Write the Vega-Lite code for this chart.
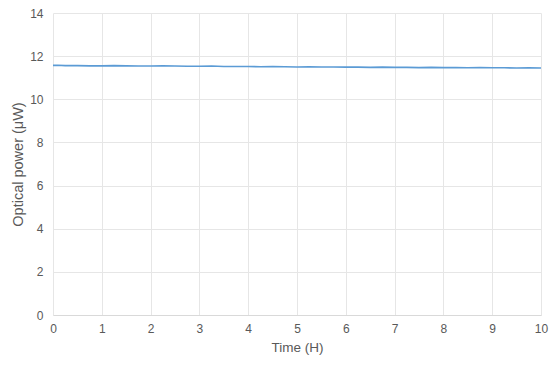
{
  "$schema": "https://vega.github.io/schema/vega-lite/v6.json",
  "autosize": {"type": "none"},
  "width": 488,
  "height": 302,
  "padding": {"left": 53, "top": 13, "right": 17, "bottom": 51},
  "background": "white",
  "config": {
    "font": "Liberation Sans",
    "view": {"stroke": null},
    "axis": {
      "labelColor": "#595959",
      "titleColor": "#595959",
      "labelFontSize": 12,
      "titleFontSize": 13.5,
      "titleFontWeight": "normal",
      "gridColor": "#e6e6e6",
      "gridWidth": 1,
      "ticks": false,
      "labelFlush": false
    }
  },
  "data": {"values": [
    {"t": 0.0, "p": 11.57}, {"t": 0.1, "p": 11.58}, {"t": 0.25, "p": 11.56}, {"t": 0.5, "p": 11.56},
    {"t": 0.75, "p": 11.55}, {"t": 1.0, "p": 11.55}, {"t": 1.25, "p": 11.56}, {"t": 1.5, "p": 11.55},
    {"t": 1.75, "p": 11.54}, {"t": 2.0, "p": 11.54}, {"t": 2.25, "p": 11.55}, {"t": 2.5, "p": 11.54},
    {"t": 2.75, "p": 11.53}, {"t": 3.0, "p": 11.53}, {"t": 3.25, "p": 11.54}, {"t": 3.5, "p": 11.52},
    {"t": 3.75, "p": 11.52}, {"t": 4.0, "p": 11.52}, {"t": 4.25, "p": 11.51}, {"t": 4.5, "p": 11.52},
    {"t": 4.75, "p": 11.51}, {"t": 5.0, "p": 11.50}, {"t": 5.25, "p": 11.51}, {"t": 5.5, "p": 11.50},
    {"t": 5.75, "p": 11.50}, {"t": 6.0, "p": 11.49}, {"t": 6.25, "p": 11.49}, {"t": 6.5, "p": 11.48},
    {"t": 6.75, "p": 11.49}, {"t": 7.0, "p": 11.48}, {"t": 7.25, "p": 11.48}, {"t": 7.5, "p": 11.47},
    {"t": 7.75, "p": 11.48}, {"t": 8.0, "p": 11.47}, {"t": 8.25, "p": 11.47}, {"t": 8.5, "p": 11.46},
    {"t": 8.75, "p": 11.47}, {"t": 9.0, "p": 11.46}, {"t": 9.25, "p": 11.46}, {"t": 9.5, "p": 11.45},
    {"t": 9.75, "p": 11.46}, {"t": 10.0, "p": 11.45}
  ]},
  "mark": {"type": "line", "color": "#5B9BD5", "strokeWidth": 1.6},
  "encoding": {
    "x": {
      "field": "t", "type": "quantitative", "title": "Time (H)",
      "scale": {"domain": [0, 10], "nice": false},
      "axis": {"values": [0,1,2,3,4,5,6,7,8,9,10], "domainColor": "#d9d9d9", "labelPadding": 8, "titlePadding": 6}
    },
    "y": {
      "field": "p", "type": "quantitative", "title": "Optical power (μW)",
      "scale": {"domain": [0, 14], "nice": false},
      "axis": {"values": [0,2,4,6,8,10,12,14], "domain": false, "labelPadding": 10, "titlePadding": 4, "titleFontSize": 14.5}
    }
  }
}
